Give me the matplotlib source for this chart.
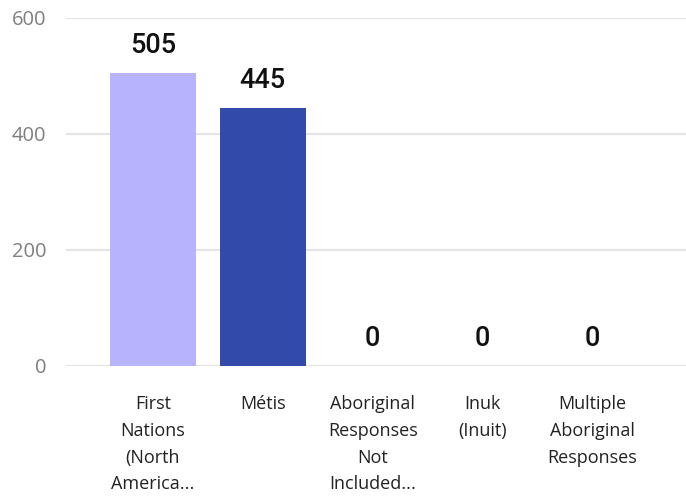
import matplotlib.pyplot as plt
import numpy as np

categories = ["First\nNations\n(North\nAmerica...", "Métis", "Aboriginal\nResponses\nNot\nIncluded...",
              "Inuk\n(Inuit)", "Multiple\nAboriginal\nResponses"]
values = [505, 445, 0, 0, 0]
bar_colors = ["#b7b3fc", "#324bab", "#b7b3fc", "#b7b3fc", "#b7b3fc"]
y_ticks = [0, 200, 400, 600]

fig = plt.figure(figsize=(6.86, 4.98), dpi=100)
ax = fig.add_axes([0.0962, 0.2651, 0.9038, 0.6988])

x = np.arange(len(categories))
bars = ax.bar(x, values, width=0.78, color=bar_colors, zorder=2)

# value labels above bars
for xi, v in zip(x, values):
    ax.annotate(f"{v}", (xi, v), xytext=(0, 10), textcoords="offset points",
                ha="center", va="bottom", fontsize=19.5, fontfamily="Roboto",
                fontweight="medium", color="#111111")

ax.set_ylim(0, 600)
ax.set_xlim(-0.79, 4.85)
ax.set_yticks(y_ticks)
ax.set_yticklabels([str(t) for t in y_ticks], fontsize=14.5, color="#7f7f7f", fontfamily="Open Sans")
ax.set_xticks(x)
ax.set_xticklabels(categories, fontsize=13, color="#222222", fontfamily="Open Sans", linespacing=1.62)

ax.grid(axis="y", color="#e4e4e4", linewidth=1.6, zorder=0)
ax.tick_params(axis="both", length=0)
ax.tick_params(axis="x", pad=21)
ax.tick_params(axis="y", pad=14)
for side in ["top", "right", "left", "bottom"]:
    ax.spines[side].set_visible(False)

fig.savefig("out.png", dpi=100)
